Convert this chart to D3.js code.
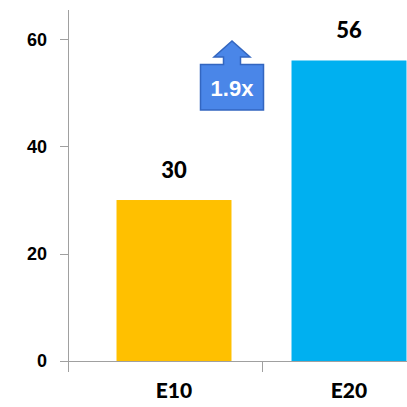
<!DOCTYPE html>
<html>
<head>
<meta charset="utf-8">
<script src="https://cdn.jsdelivr.net/npm/d3@7/dist/d3.min.js"></script>
<style>
  html, body { margin: 0; padding: 0; background: #fff; }
  svg { display: block; }
</style>
</head>
<body>
<svg id="chart" width="407" height="407"></svg>
<script>
// Chart data
const categories = ["E10", "E20"];
const values = [30, 56];
const barColors = ["#FFC000", "#00B0F0"];
const yTicks = [0, 20, 40, 60];
const growthLabel = "1.9x";

const svg = d3.select("#chart");

const y = d3.scaleLinear().domain([0, 65]).range([361, 12.2]);
const x = d3.scaleBand().domain(categories).range([86.5, 436.5]).paddingInner(0.343).paddingOuter(0.1715);

const axisColor = "#A0A0A0";
const yAxisX = 68;

// Y axis: vertical line, ticks and labels
svg.append("line")
  .attr("x1", yAxisX + 0.5).attr("x2", yAxisX + 0.5)
  .attr("y1", 10).attr("y2", 372)
  .attr("stroke", axisColor).attr("stroke-width", 1);

svg.selectAll(".ytick").data(yTicks).join("line")
  .attr("class", "ytick")
  .attr("x1", 60).attr("x2", yAxisX)
  .attr("y1", d => Math.round(y(d)) + 0.5).attr("y2", d => Math.round(y(d)) + 0.5)
  .attr("stroke", axisColor);

svg.selectAll(".ylabel").data(yTicks).join("text")
  .attr("class", "ylabel")
  .attr("x", 47).attr("y", d => y(d))
  .attr("dy", "0.36em")
  .attr("text-anchor", "end")
  .attr("font-family", "Liberation Sans, Arial, sans-serif")
  .attr("font-weight", "bold")
  .attr("font-size", 18)
  .attr("fill", "#000")
  .text(d => d);

// Bars
svg.selectAll(".bar").data(categories).join("rect")
  .attr("class", "bar")
  .attr("x", d => x(d))
  .attr("width", x.bandwidth())
  .attr("y", (d, i) => y(values[i]))
  .attr("height", (d, i) => y(0) - y(values[i]))
  .attr("fill", (d, i) => barColors[i]);

// X axis baseline and category separators
svg.append("line")
  .attr("x1", 60).attr("x2", 407)
  .attr("y1", Math.round(y(0)) + 0.5).attr("y2", Math.round(y(0)) + 0.5)
  .attr("stroke", axisColor);

const separators = categories.slice(1).map(c => x(c) - x.step() * x.paddingInner() / 2);
svg.selectAll(".xtick").data(separators).join("line")
  .attr("class", "xtick")
  .attr("x1", d => Math.round(d) + 0.5).attr("x2", d => Math.round(d) + 0.5)
  .attr("y1", y(0)).attr("y2", 372)
  .attr("stroke", axisColor);

// Category labels
svg.selectAll(".xlabel").data(categories).join("text")
  .attr("class", "xlabel")
  .attr("x", d => x(d) + x.bandwidth() / 2)
  .attr("y", 398)
  .attr("text-anchor", "middle")
  .attr("font-family", "Lato, Open Sans, sans-serif")
  .attr("font-weight", 900)
  .attr("font-size", 21)
  .attr("fill", "#000")
  .text(d => d);

// Value labels above bars
svg.selectAll(".vlabel").data(categories).join("text")
  .attr("class", "vlabel")
  .attr("x", d => x(d) + x.bandwidth() / 2)
  .attr("y", (d, i) => y(values[i]) - 22)
  .attr("text-anchor", "middle")
  .attr("font-family", "Lato, Open Sans, sans-serif")
  .attr("font-weight", 900)
  .attr("font-size", 22)
  .attr("fill", "#000")
  .text((d, i) => d3.format("d")(values[i]));

// Growth callout: box with upward arrow
const cx = 232;
const callout = [
  [200.5, 64.5], [223.5, 64.5], [223.5, 57], [214, 57], [cx, 41],
  [250, 57], [240.5, 57], [240.5, 64.5], [263.5, 64.5], [263.5, 110], [200.5, 110]
];
svg.append("path")
  .attr("d", d3.line()(callout) + "Z")
  .attr("fill", "#4A86E8")
  .attr("stroke", "#3366C0")
  .attr("stroke-width", 1.5)
  .attr("stroke-linejoin", "miter");

svg.append("text")
  .attr("x", cx).attr("y", 88)
  .attr("dy", "0.36em")
  .attr("text-anchor", "middle")
  .attr("font-family", "Liberation Sans, Arial, sans-serif")
  .attr("font-weight", "bold")
  .attr("font-size", 22)
  .attr("fill", "#fff")
  .text(growthLabel);
</script>
</body>
</html>
